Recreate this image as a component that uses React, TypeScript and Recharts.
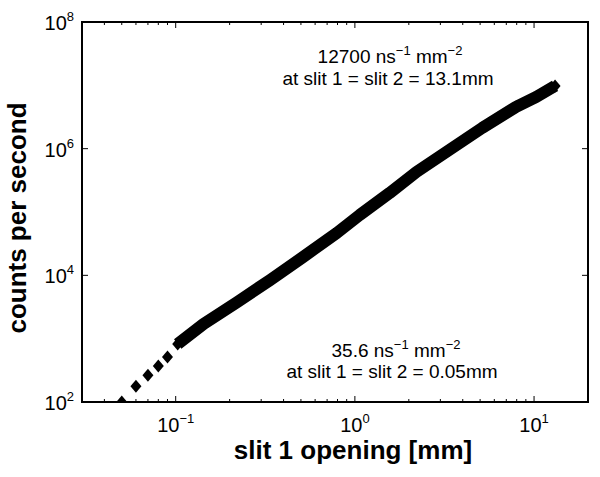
import { ScatterChart, Scatter, XAxis, YAxis, ReferenceArea } from 'recharts';

// slit 1 opening [mm] vs counts per second
const sparseX = [0.05, 0.06, 0.07, 0.08, 0.09];
const sparseY = [100, 178, 265, 370, 515];
const denseX = [0.1026, 0.143, 0.221, 0.337, 0.514, 0.794, 1.066, 1.564, 2.21, 3.37, 5.14, 7.94, 10.3, 13.1];
const denseY = [825, 1710, 3800, 8460, 19500, 46800, 90000, 200000, 430000, 957000, 2130000, 4570000, 6580000, 9800000];

const xMajor = [0.1, 1, 10];
const xExp = ['\u22121', '0', '1'];
const xMinor = [0.04, 0.05, 0.06, 0.07, 0.08, 0.09, 0.2, 0.3, 0.4, 0.5, 0.6, 0.7, 0.8, 0.9, 2, 3, 4, 5, 6, 7, 8, 9, 20];
const yMajor = [1e2, 1e4, 1e6, 1e8];
const yExp = ['2', '4', '6', '8'];

const sparse = sparseX.map((x, i) => ({ x, y: sparseY[i] }));
const dense = denseX.map((x, i) => ({ x, y: denseY[i] }));
const xTicks = [...xMajor, ...xMinor].sort((a, b) => a - b);

const FONT = '"Liberation Sans", Arial, Helvetica, sans-serif';

const Diamond = (props: any) => {
  const { cx, cy } = props;
  return <path d={`M${cx},${cy - 6.5}L${cx + 5.5},${cy}L${cx},${cy + 6.5}L${cx - 5.5},${cy}Z`} fill="#000" />;
};

const Nothing = () => <g />;

const BottomTick = (props: any) => {
  const { x, y, payload } = props;
  const i = xMajor.indexOf(payload.value);
  const len = i >= 0 ? 6 : 3;
  return (
    <g>
      <line x1={x} x2={x} y1={y} y2={y - len} stroke="#000" strokeWidth={1} />
      {i >= 0 && (
        <text x={x} y={y + 30} textAnchor="middle" fontSize={20} fontFamily={FONT} fill="#000">
          10<tspan dy={-9} fontSize={13}>{xExp[i]}</tspan>
        </text>
      )}
    </g>
  );
};

const TopTick = (props: any) => {
  const { x, y, payload } = props;
  const len = xMajor.includes(payload.value) ? 6 : 3;
  return <line x1={x} x2={x} y1={y} y2={y + len} stroke="#000" strokeWidth={1} />;
};

const LeftTick = (props: any) => {
  const { x, y, payload } = props;
  const i = yMajor.indexOf(payload.value);
  return (
    <g>
      <line x1={x} x2={x + 6} y1={y} y2={y} stroke="#000" strokeWidth={1} />
      <text x={x - 8} y={y + 8} textAnchor="end" fontSize={20} fontFamily={FONT} fill="#000">
        10<tspan dy={-9} fontSize={13}>{yExp[i]}</tspan>
      </text>
    </g>
  );
};

const RightTick = (props: any) => {
  const { x, y } = props;
  return <line x1={x} x2={x - 6} y1={y} y2={y} stroke="#000" strokeWidth={1} />;
};

export default function App() {
  return (
    <div style={{ position: 'absolute', left: 0, top: 0, width: 600, height: 477, background: '#fff' }}>
      <ScatterChart width={600} height={477} margin={{ top: 21, right: 11, left: 0, bottom: 0 }}>
        <XAxis
          xAxisId="b"
          dataKey="x"
          type="number"
          scale="log"
          domain={[0.03, 20]}
          allowDataOverflow
          ticks={xTicks}
          interval={0}
          height={75}
          tickSize={0}
          tickMargin={0}
          tickLine={false}
          tick={<BottomTick />}
          axisLine={{ stroke: '#000', strokeWidth: 2 }}
        />
        <XAxis
          xAxisId="t"
          dataKey="x"
          orientation="top"
          type="number"
          scale="log"
          domain={[0.03, 20]}
          allowDataOverflow
          ticks={xTicks}
          interval={0}
          height={1}
          tickSize={0}
          tickMargin={0}
          tickLine={false}
          tick={<TopTick />}
          axisLine={{ stroke: '#000', strokeWidth: 2 }}
        />
        <YAxis
          yAxisId="l"
          dataKey="y"
          type="number"
          scale="log"
          domain={[100, 1e8]}
          allowDataOverflow
          ticks={yMajor}
          interval={0}
          width={82}
          tickSize={0}
          tickMargin={0}
          tickLine={false}
          tick={<LeftTick />}
          axisLine={{ stroke: '#000', strokeWidth: 2 }}
        />
        <YAxis
          yAxisId="r"
          dataKey="y"
          orientation="right"
          type="number"
          scale="log"
          domain={[100, 1e8]}
          allowDataOverflow
          ticks={yMajor}
          interval={0}
          width={1}
          tickSize={0}
          tickMargin={0}
          tickLine={false}
          tick={<RightTick />}
          axisLine={{ stroke: '#000', strokeWidth: 2 }}
        />
        {/* plot box */}
        <ReferenceArea
          xAxisId="b"
          yAxisId="l"
          x1={0.03}
          x2={20}
          y1={100}
          y2={1e8}
          fill="none"
          fillOpacity={0}
          stroke="#000"
          strokeWidth={2}
          ifOverflow="visible"
        />
        {/* invisible series so the top/right mirror axes render */}
        <Scatter xAxisId="t" yAxisId="r" data={dense} shape={<Nothing />} isAnimationActive={false} />
        <Scatter
          xAxisId="b"
          yAxisId="l"
          data={dense}
          shape={<Diamond />}
          line={{ stroke: '#000', strokeWidth: 12, strokeLinejoin: 'round' }}
          lineType="joint"
          isAnimationActive={false}
        />
        <Scatter xAxisId="b" yAxisId="l" data={sparse} shape={<Diamond />} isAnimationActive={false} />
      </ScatterChart>
      <svg width={600} height={477} style={{ position: 'absolute', left: 0, top: 0, pointerEvents: 'none' }}>
        <g fontFamily={FONT} fill="#000">
          <text transform="translate(26,218) rotate(-90)" textAnchor="middle" fontSize={26} fontWeight="bold">
            counts per second
          </text>
          <text x={353} y={459} textAnchor="middle" fontSize={26} fontWeight="bold">
            slit 1 opening [mm]
          </text>
          <text x={390} y={63} textAnchor="middle" fontSize={19}>
            12700 ns<tspan dy={-8} fontSize={13}>{'\u22121'}</tspan>
            <tspan dy={8}> mm</tspan>
            <tspan dy={-8} fontSize={13}>{'\u22122'}</tspan>
          </text>
          <text x={388} y={85} textAnchor="middle" fontSize={19}>
            at slit 1 = slit 2 = 13.1mm
          </text>
          <text x={396} y={357} textAnchor="middle" fontSize={19}>
            35.6 ns<tspan dy={-8} fontSize={13}>{'\u22121'}</tspan>
            <tspan dy={8}> mm</tspan>
            <tspan dy={-8} fontSize={13}>{'\u22122'}</tspan>
          </text>
          <text x={392} y={378} textAnchor="middle" fontSize={19}>
            at slit 1 = slit 2 = 0.05mm
          </text>
        </g>
      </svg>
    </div>
  );
}
